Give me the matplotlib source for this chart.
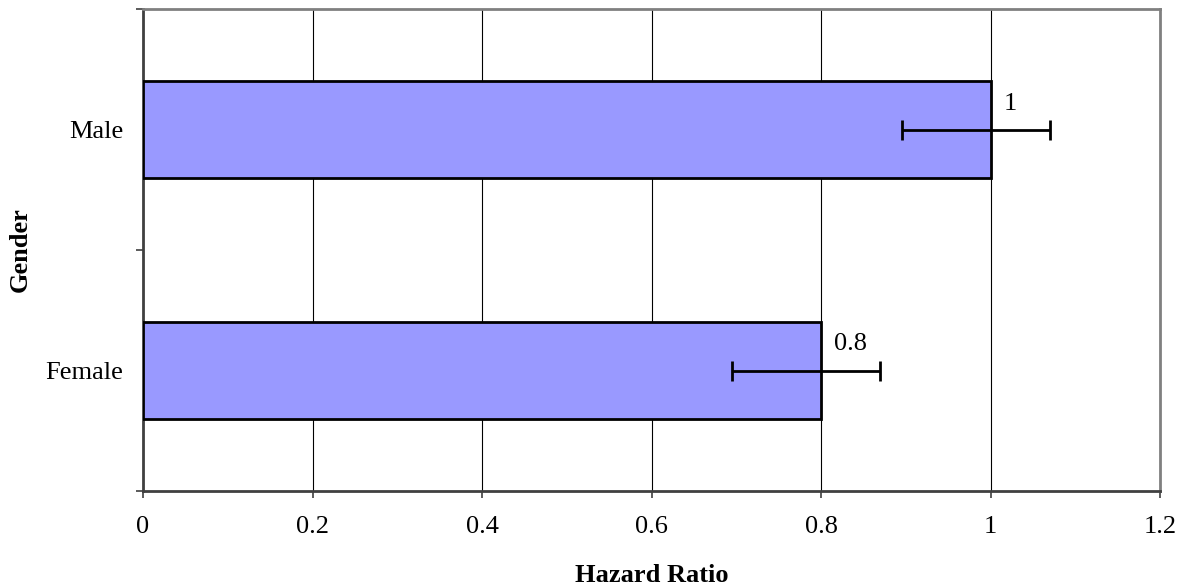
import matplotlib
matplotlib.use("Agg")
import matplotlib.pyplot as plt
import numpy as np

categories = ["Female", "Male"]
hazard_ratio = [0.8, 1.0]
ci_low = [0.695, 0.895]
ci_high = [0.87, 1.07]
value_labels = ["0.8", "1"]
x_ticks = [0, 0.2, 0.4, 0.6, 0.8, 1.0, 1.2]
x_tick_labels = ["0", "0.2", "0.4", "0.6", "0.8", "1", "1.2"]

plt.rcParams['font.family'] = ['Liberation Serif', 'DejaVu Serif']
FS = 19

fig = plt.figure(figsize=(11.9, 5.88), dpi=100)
ax = fig.add_axes([143/1190, 1-491/588, (1160-143)/1190, (491-9)/588])

y = np.arange(len(categories))
ax.barh(y, hazard_ratio, height=0.4, color="#9999FF", edgecolor="black", linewidth=2, zorder=3)
xerr = [np.array(hazard_ratio) - np.array(ci_low), np.array(ci_high) - np.array(hazard_ratio)]
ax.errorbar(hazard_ratio, y, xerr=xerr, fmt="none", ecolor="black", elinewidth=2,
            capsize=7, capthick=2, zorder=4)
for yi, v, lab in zip(y, hazard_ratio, value_labels):
    ax.annotate(lab, (v, yi), xytext=(13, 26), textcoords="offset pixels",
                ha="left", va="center", fontsize=FS, color="black", zorder=5)

ax.set_xlim(0, 1.2)
ax.set_ylim(-0.5, 1.5)
ax.set_xticks(x_ticks)
ax.set_xticklabels(x_tick_labels, fontsize=FS)
ax.set_yticks([-0.5, 0.5, 1.5])
ax.set_yticklabels([])
ax.set_yticks(y, minor=True)
ax.set_yticklabels(categories, minor=True, fontsize=FS)
ax.tick_params(axis="y", which="minor", length=0, pad=14)
ax.tick_params(axis="y", which="major", length=5, width=1.2, color="#404040", direction="out")
ax.tick_params(axis="x", which="major", length=5, width=1.2, color="#404040", direction="out", pad=13)

ax.grid(axis="x", color="black", linewidth=0.8, zorder=0)
ax.set_axisbelow(True)

for s in ["top", "right"]:
    ax.spines[s].set_color("#808080")
    ax.spines[s].set_linewidth(2)
for s in ["left", "bottom"]:
    ax.spines[s].set_color("#404040")
    ax.spines[s].set_linewidth(2)

fig.text(652/1190, 1-575/588, "Hazard Ratio", ha="center", va="center", fontsize=FS, fontweight="bold")
fig.text(20/1190, 1-250/588, "Gender", ha="center", va="center", rotation=90, fontsize=FS, fontweight="bold")

fig.savefig("out.png", dpi=100)
